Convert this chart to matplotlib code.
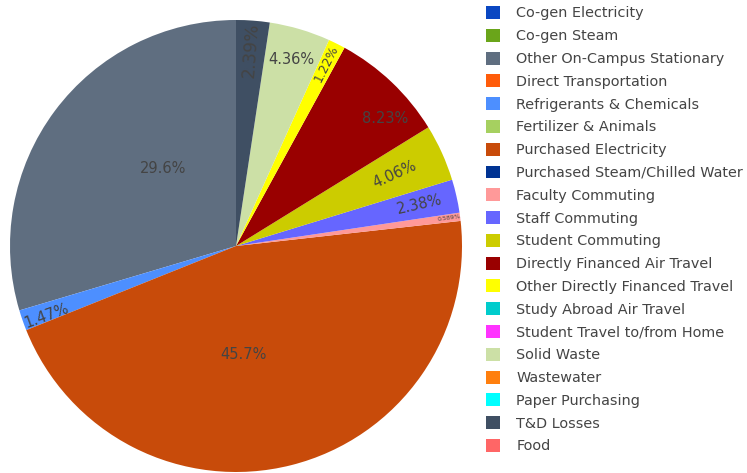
"""Emissions breakdown by source - pie chart with legend on the right."""

import matplotlib
matplotlib.use('Agg')
import matplotlib.pyplot as plt
import numpy as np

categories = [
    'Co-gen Electricity', 'Co-gen Steam', 'Other On-Campus Stationary',
    'Direct Transportation', 'Refrigerants & Chemicals', 'Fertilizer & Animals',
    'Purchased Electricity', 'Purchased Steam/Chilled Water', 'Faculty Commuting',
    'Staff Commuting', 'Student Commuting', 'Directly Financed Air Travel',
    'Other Directly Financed Travel', 'Study Abroad Air Travel',
    'Student Travel to/from Home', 'Solid Waste', 'Wastewater',
    'Paper Purchasing', 'T&D Losses', 'Food',
]
shares = [0, 0, 29.6, 0, 1.47, 0, 45.7, 0, 0.589, 2.38, 4.06, 8.23,
          1.22, 0, 0, 4.36, 0, 0, 2.39, 0]
colors = [
    '#0a47c2', '#6aa51a', '#5f6e80', '#ff5c0a', '#4d8fff', '#a6d060',
    '#c84b0a', '#003393', '#ff9999', '#6666ff', '#cccc00', '#990000',
    '#ffff00', '#00cccc', '#ff33ff', '#cce0a6', '#ff7f0e', '#00ffff',
    '#3f4f63', '#ff6666',
]

# label placement: (fraction of radius, angle shift from slice middle)
label_pos = {'Other On-Campus Stationary': (0.47, -10),
             'Purchased Electricity': (0.48, -10),
             'Directly Financed Air Travel': (0.87, -6),
             'Solid Waste': (0.86, 0),
             'Student Commuting': (0.77, 0),
             'Staff Commuting': (0.83, 0),
             'Refrigerants & Chemicals': (0.895, 1),
             'Other Directly Financed Travel': (0.90, 0),
             'T&D Losses': (0.87, 0),
             'Faculty Commuting': (0.95, 0)}
label_fs = {'T&D Losses': 12.5, 'Other Directly Financed Travel': 9,
            'Faculty Commuting': 4.5}

fig = plt.figure(figsize=(7.47, 4.73), dpi=100)
ax = fig.add_axes([10 / 747, 1 / 473, 452 / 747, 452 / 473])

wedges, _ = ax.pie(shares, colors=colors, startangle=90, counterclock=True,
                   radius=1, wedgeprops=dict(linewidth=0))
ax.set_xlim(-1, 1)
ax.set_ylim(-1, 1)
ax.set_aspect('equal')

for w, name, v in zip(wedges, categories, shares):
    if v == 0:
        continue
    r, shift = label_pos.get(name, (0.8, 0))
    mid = (w.theta1 + w.theta2) / 2 + shift
    x = r * np.cos(np.radians(mid))
    y = r * np.sin(np.radians(mid))
    # thin slices get radial text, wider ones horizontal
    if v < 4.2:
        rot = mid % 360
        if 90 < rot < 270:
            rot -= 180
    else:
        rot = 0
    ax.text(x, y, f'{v:.3g}%', ha='center', va='center', rotation=rot,
            rotation_mode='anchor', fontsize=label_fs.get(name, 10.5),
            color='#444444')

fig.legend(wedges, categories, loc='upper left',
           bbox_to_anchor=(486 / 747, 1 - 6 / 473), frameon=False,
           fontsize=10.4, labelcolor='#444444', handlelength=1.0,
           handleheight=1.0, handletextpad=1.1, labelspacing=0.58,
           borderaxespad=0, borderpad=0)

fig.savefig('out.png', dpi=100)
